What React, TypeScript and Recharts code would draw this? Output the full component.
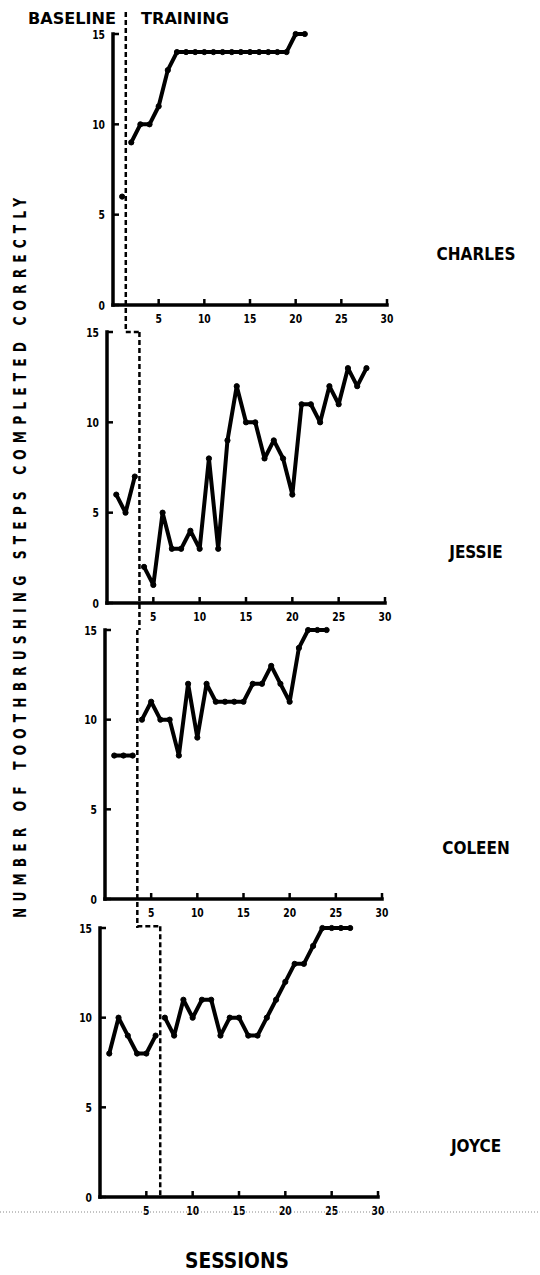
import React from 'react';
import { LineChart, Line, XAxis, YAxis, ReferenceLine } from 'recharts';

// sessions on the x axis, steps correct on the y axis
const xTicks = [5, 10, 15, 20, 25, 30];
const yTicks = [0, 5, 10, 15];

const charlesBaseline = [6];
const charlesTraining = [9, 10, 10, 11, 13, 14, 14, 14, 14, 14, 14, 14, 14, 14, 14, 14, 14, 14, 15, 15];
const jessieBaseline = [6, 5, 7];
const jessieTraining = [2, 1, 5, 3, 3, 4, 3, 8, 3, 9, 12, 10, 10, 8, 9, 8, 6, 11, 11, 10, 12, 11, 13, 12, 13];
const coleenBaseline = [8, 8, 8];
const coleenTraining = [10, 11, 10, 10, 8, 12, 9, 12, 11, 11, 11, 11, 12, 12, 13, 12, 11, 14, 15, 15, 15];
const joyceBaseline = [8, 10, 9, 8, 8, 9];
const joyceTraining = [10, 9, 11, 10, 11, 11, 9, 10, 10, 9, 9, 10, 11, 12, 13, 13, 14, 15, 15, 15, 15];

// phase change (between last baseline and first training session)
const charlesPhase = 1.4;
const jessiePhase = 3.5;
const coleenPhase = 3.5;
const joycePhase = 6.5;

const FONT = "'DejaVu Sans Condensed', 'Liberation Sans Narrow', 'DejaVu Sans', sans-serif";
const Y_W = 30;
const X_H = 20;

type Row = { session: number; base: number | null; train: number | null };

function buildRows(baseline: number[], training: number[]): Row[] {
  const rows: Row[] = [];
  baseline.forEach((v, i) => rows.push({ session: i + 1, base: v, train: null }));
  const start = baseline.length + 1;
  training.forEach((v, i) => rows.push({ session: start + i, base: null, train: v }));
  return rows;
}

// bold, horizontally squeezed text like the typewriter-era lettering
const Narrow = ({ x, y, size, squeeze = 0.82, anchor = 'start', children }: any) => (
  <text
    transform={`translate(${x},${y}) scale(${squeeze},1)`}
    textAnchor={anchor}
    fontFamily={FONT}
    fontWeight="bold"
    fontSize={size}
    fill="#000"
  >
    {children}
  </text>
);

const XTick = (props: any) => {
  const { x, y, payload } = props;
  return (
    <g>
      <line x1={x} x2={x} y1={y} y2={y - 6} stroke="#000" strokeWidth={2.5} />
      <Narrow x={x} y={y + 18} size={12.5} anchor="middle">{payload.value}</Narrow>
    </g>
  );
};

const YTick = (props: any) => {
  const { x, y, payload } = props;
  return (
    <g>
      <line x1={x} x2={x + 6} y1={y} y2={y} stroke="#000" strokeWidth={2.5} />
      <Narrow x={x - 8} y={y + 4.5} size={12.5} anchor="end">{payload.value}</Narrow>
    </g>
  );
};

interface PanelLayout {
  chartTop: number;
  height: number;
  axisX: number;
  endX: number;
  plotTop: number;
  plotBottom: number;
}

const charlesLayout: PanelLayout = { chartTop: 0, height: 340, axisX: 113, endX: 387, plotTop: 34, plotBottom: 305 };
const jessieLayout: PanelLayout = { chartTop: 300, height: 330, axisX: 107, endX: 385, plotTop: 332, plotBottom: 603 };
const coleenLayout: PanelLayout = { chartTop: 600, height: 330, axisX: 105, endX: 382, plotTop: 630, plotBottom: 899 };
const joyceLayout: PanelLayout = { chartTop: 900, height: 330, axisX: 100, endX: 378, plotTop: 928, plotBottom: 1197 };

const step = (l: PanelLayout) => (l.endX - l.axisX) / 30;
const unit = (l: PanelLayout) => (l.plotBottom - l.plotTop) / 15;
// session value of another panel's phase line, in this panel's x units
const carryX = (from: PanelLayout, phase: number, to: PanelLayout) =>
  (from.axisX + phase * step(from) - to.axisX) / step(to);
// y value reached when extending below the x axis down to the next panel's top
const below = (l: PanelLayout, next: PanelLayout) => -(next.plotTop - l.plotBottom) / unit(l);

type Seg = { x: number; y: number }[];

interface PanelProps {
  layout: PanelLayout;
  rows: Row[];
  segments: Seg[];
}

const Panel: React.FC<PanelProps> = ({ layout, rows, segments }) => {
  const margin = {
    top: layout.plotTop - layout.chartTop,
    left: layout.axisX - Y_W,
    right: 540 - layout.endX,
    bottom: layout.chartTop + layout.height - layout.plotBottom - X_H,
  };
  return (
    <div style={{ position: 'absolute', left: 0, top: layout.chartTop }}>
      <LineChart width={540} height={layout.height} data={rows} margin={margin}>
        <XAxis
          type="number"
          dataKey="session"
          domain={[0, 30]}
          ticks={xTicks}
          height={X_H}
          tickSize={0}
          tickMargin={0}
          tickLine={false}
          axisLine={{ stroke: '#000', strokeWidth: 3.5, strokeLinecap: 'square' }}
          tick={<XTick />}
          interval={0}
        />
        <YAxis
          type="number"
          domain={[0, 15]}
          ticks={yTicks}
          width={Y_W}
          tickSize={0}
          tickMargin={0}
          tickLine={false}
          axisLine={{ stroke: '#000', strokeWidth: 3.5, strokeLinecap: 'square' }}
          tick={<YTick />}
          interval={0}
        />
        {segments.map((s, i) => (
          <ReferenceLine
            key={i}
            segment={s}
            stroke="#000"
            strokeWidth={2.5}
            strokeDasharray="5 3"
            ifOverflow="visible"
          />
        ))}
        <Line
          dataKey="base"
          stroke="#000"
          strokeWidth={4}
          strokeLinejoin="round"
          dot={{ r: 2.6, fill: '#000', stroke: '#000', strokeWidth: 1 }}
          isAnimationActive={false}
          connectNulls={false}
        />
        <Line
          dataKey="train"
          stroke="#000"
          strokeWidth={4}
          strokeLinejoin="round"
          dot={{ r: 2.6, fill: '#000', stroke: '#000', strokeWidth: 1 }}
          isAnimationActive={false}
          connectNulls={false}
        />
      </LineChart>
    </div>
  );
};

const names = ['CHARLES', 'JESSIE', 'COLEEN', 'JOYCE'];
const layouts = [charlesLayout, jessieLayout, coleenLayout, joyceLayout];

export default function App() {
  const charlesTopY = 15 + (charlesLayout.plotTop - 12) / unit(charlesLayout);
  const charlesSegs: Seg[] = [
    [{ x: charlesPhase, y: charlesTopY }, { x: charlesPhase, y: below(charlesLayout, jessieLayout) }],
  ];
  const jessieSegs: Seg[] = [
    [{ x: carryX(charlesLayout, charlesPhase, jessieLayout), y: 15 }, { x: jessiePhase, y: 15 }],
    [{ x: jessiePhase, y: 15 }, { x: jessiePhase, y: below(jessieLayout, coleenLayout) }],
  ];
  const coleenSegs: Seg[] = [
    [{ x: coleenPhase, y: 15 }, { x: coleenPhase, y: below(coleenLayout, joyceLayout) }],
  ];
  const joyceSegs: Seg[] = [
    [{ x: carryX(coleenLayout, coleenPhase, joyceLayout), y: 15.1 }, { x: joycePhase, y: 15.1 }],
    [{ x: joycePhase, y: 15.1 }, { x: joycePhase, y: 0 }],
  ];

  return (
    <div style={{ position: 'absolute', left: 0, top: 0, width: 540, height: 1275, background: '#fff', overflow: 'hidden' }}>
      <Panel layout={charlesLayout} rows={buildRows(charlesBaseline, charlesTraining)} segments={charlesSegs} />
      <Panel layout={jessieLayout} rows={buildRows(jessieBaseline, jessieTraining)} segments={jessieSegs} />
      <Panel layout={coleenLayout} rows={buildRows(coleenBaseline, coleenTraining)} segments={coleenSegs} />
      <Panel layout={joyceLayout} rows={buildRows(joyceBaseline, joyceTraining)} segments={joyceSegs} />
      <svg width={540} height={1275} style={{ position: 'absolute', left: 0, top: 0, pointerEvents: 'none' }}>
        <g fontFamily={FONT} fontWeight="bold" fill="#000">
          <text x={28} y={24} fontSize={16} textLength={88} lengthAdjust="spacingAndGlyphs">BASELINE</text>
          <text x={141} y={24} fontSize={16} textLength={88} lengthAdjust="spacingAndGlyphs">TRAINING</text>
          {names.map((n, i) => (
            <text
              key={n}
              x={476}
              y={layouts[i].plotTop + 0.81 * (layouts[i].plotBottom - layouts[i].plotTop) + 6}
              fontSize={17}
              textAnchor="middle"
            >
              {n}
            </text>
          ))}
          <text
            transform="translate(26, 558) rotate(-90) scale(0.8,1)"
            x={0}
            y={0}
            fontSize={17}
            textAnchor="middle"
            textLength={900}
            lengthAdjust="spacing"
          >
            NUMBER OF TOOTHBRUSHING STEPS COMPLETED CORRECTLY
          </text>
          <text x={237} y={1268} fontSize={21} textAnchor="middle" textLength={104} lengthAdjust="spacingAndGlyphs">
            SESSIONS
          </text>
        </g>
        <line x1={0} x2={540} y1={1212} y2={1212} stroke="#888" strokeWidth={1} strokeDasharray="1 2" />
      </svg>
    </div>
  );
}
